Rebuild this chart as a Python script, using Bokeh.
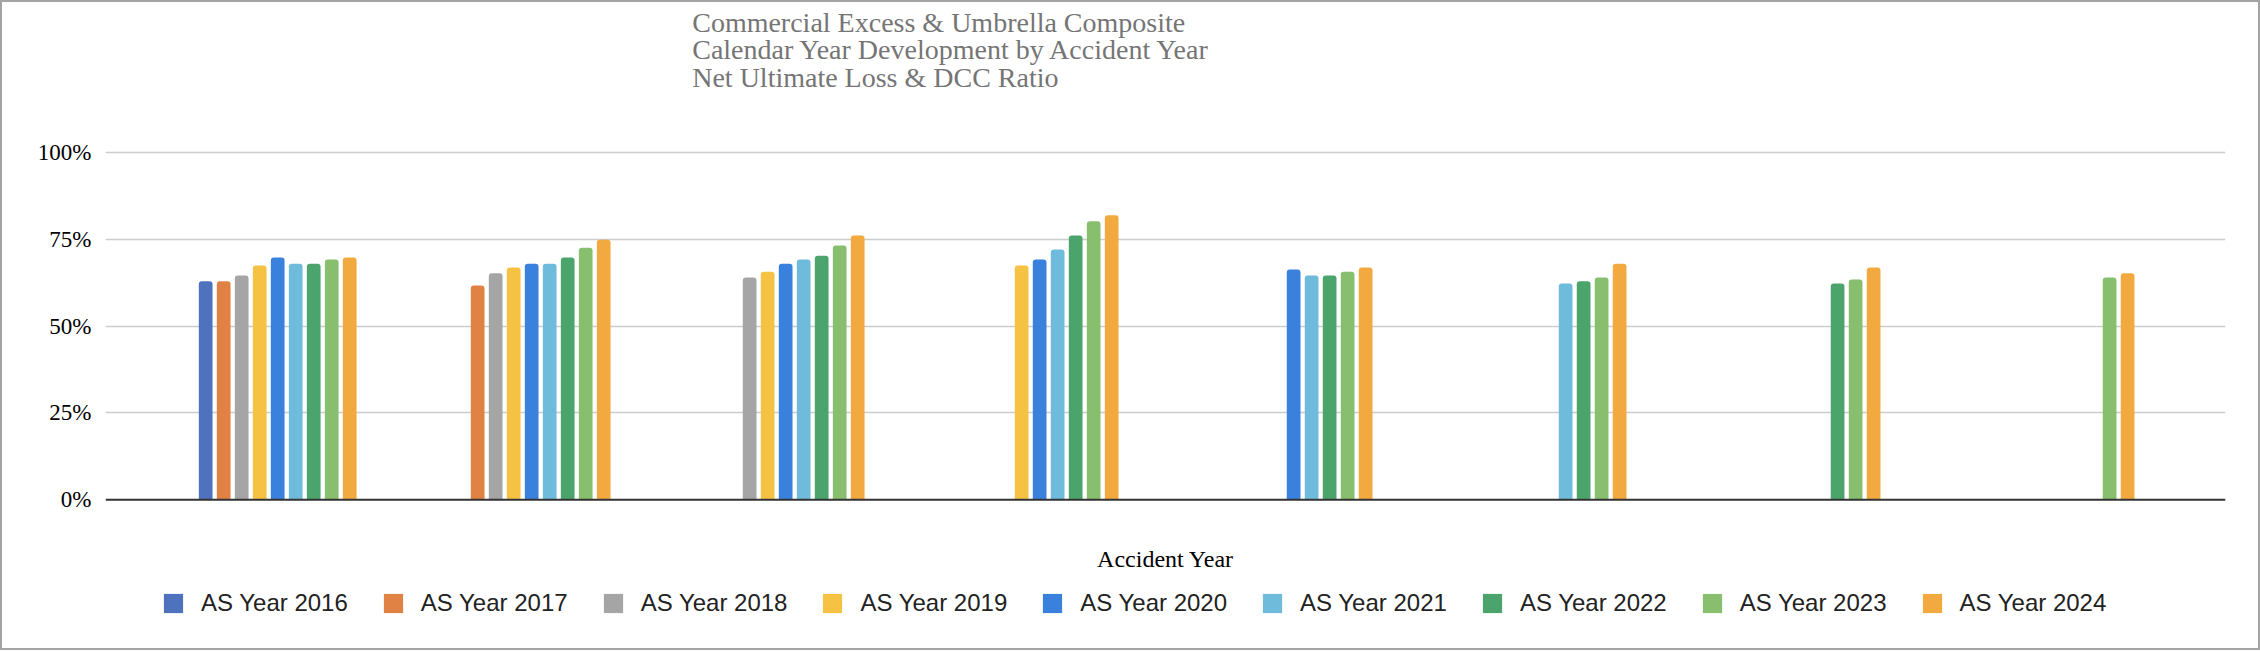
from bokeh.plotting import figure
from bokeh.models import (ColumnDataSource, Legend, LegendItem, NumeralTickFormatter,
                          FixedTicker, Range1d, Span, Label)
from bokeh.transform import dodge
from bokeh.embed import file_html
from bokeh.resources import INLINE

nan = float("nan")

# groups on the x axis (no tick labels shown in the chart)
accident_years = ["2016", "2017", "2018", "2019", "2020", "2021", "2022", "2023"]

as_years = ["AS Year 2016", "AS Year 2017", "AS Year 2018", "AS Year 2019", "AS Year 2020",
            "AS Year 2021", "AS Year 2022", "AS Year 2023", "AS Year 2024"]

# net ultimate loss & DCC ratio per accident year, one list per as-of year
as_2016 = [0.629, nan, nan, nan, nan, nan, nan, nan]
as_2017 = [0.629, 0.617, nan, nan, nan, nan, nan, nan]
as_2018 = [0.646, 0.652, 0.640, nan, nan, nan, nan, nan]
as_2019 = [0.675, 0.669, 0.657, 0.675, nan, nan, nan, nan]
as_2020 = [0.698, 0.680, 0.680, 0.692, 0.663, nan, nan, nan]
as_2021 = [0.680, 0.680, 0.692, 0.721, 0.646, 0.623, nan, nan]
as_2022 = [0.680, 0.698, 0.703, 0.761, 0.646, 0.629, 0.623, nan]
as_2023 = [0.692, 0.726, 0.732, 0.802, 0.657, 0.640, 0.634, 0.640]
as_2024 = [0.698, 0.749, 0.761, 0.819, 0.669, 0.680, 0.669, 0.652]

series = [as_2016, as_2017, as_2018, as_2019, as_2020, as_2021, as_2022, as_2023, as_2024]
colors = ["#4e72be", "#df8244", "#a5a5a5", "#f5c243", "#3981dc",
          "#6fbbdc", "#4aa46c", "#88bf6f", "#f2a93f"]

title_text = ("Commercial Excess & Umbrella Composite\n"
              "Calendar Year Development by Accident Year\n"
              "Net Ultimate Loss & DCC Ratio")

# frame fills the whole height: title, axis title and legend live inside it
x_range = Range1d(-0.678, 7.669)
y_range = Range1d(-0.4339, 1.4377)

p = figure(width=2260, height=650, x_range=x_range, y_range=y_range,
           x_axis_location=None, output_backend="svg", toolbar_location=None,
           min_border_left=105, min_border_right=35, min_border_top=0, min_border_bottom=0)
p.outline_line_color = None
p.border_fill_color = None
p.background_fill_color = None
p.styles = {"outline": "2px solid #a3a3a3", "outline-offset": "-2px"}

src = ColumnDataSource(dict(x=list(range(len(accident_years))),
                            **{name: vals for name, vals in zip(as_years, series)}))

slot = 0.0709
items = []
for j, (name, col) in enumerate(zip(as_years, colors)):
    r = p.vbar(x=dodge("x", (j - 4) * slot, range=p.x_range), top=name, width=0.054,
               source=src, fill_color=col, line_color=None, border_radius=(3, 3, 0, 0))
    items.append(LegendItem(label=name, renderers=[r]))

# x axis baseline
p.add_layout(Span(location=0, dimension="width", line_color="#333333", line_width=2))

p.yaxis.ticker = FixedTicker(ticks=[0, 0.25, 0.5, 0.75, 1])
p.yaxis.formatter = NumeralTickFormatter(format="0%")
p.yaxis.major_label_text_font = "Liberation Serif"
p.yaxis.major_label_text_font_size = "23px"
p.yaxis.major_label_text_color = "black"
p.yaxis.major_label_standoff = 14
p.yaxis.major_tick_in = 0
p.yaxis.major_tick_out = 0
p.yaxis.axis_line_color = None
p.yaxis.major_tick_line_color = None
p.yaxis.minor_tick_line_color = None

p.xgrid.grid_line_color = None
p.ygrid.ticker = FixedTicker(ticks=[0.25, 0.5, 0.75, 1])
p.ygrid.grid_line_color = "#cccccc"
p.ygrid.grid_line_width = 1.5

p.add_layout(Label(x=1.632, y=1.4204, text=title_text, text_align="left", text_baseline="top",
                   text_font="Liberation Serif", text_font_size="28px",
                   text_color="#757575", text_line_height=0.9))

p.add_layout(Label(x=(x_range.start + x_range.end) / 2, y=-0.1707, text="Accident Year",
                   text_align="center", text_baseline="middle",
                   text_font="Liberation Serif", text_font_size="24px", text_color="black"))

legend = Legend(items=items, orientation="horizontal", location=(56, 33),
                glyph_width=24, glyph_height=24, label_standoff=16, spacing=33,
                label_text_font="Liberation Sans", label_text_font_size="24px",
                label_text_color="#222222", label_height=24,
                padding=0, margin=0, border_line_color=None, background_fill_alpha=0)
p.add_layout(legend, "center")

open("out.html", "w").write(file_html(p, INLINE))
